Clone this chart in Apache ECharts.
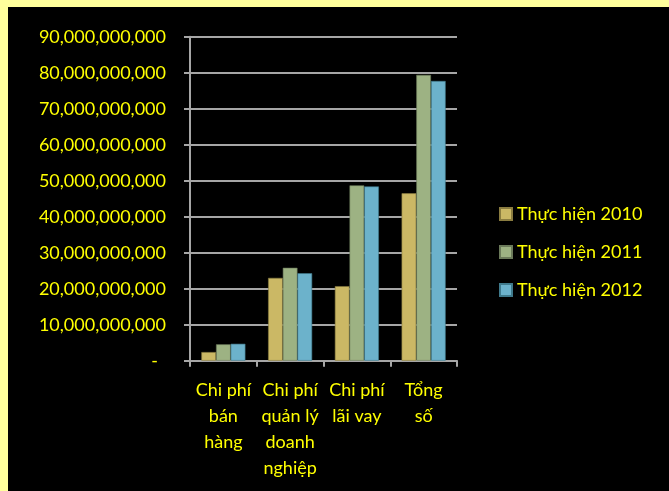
<!DOCTYPE html>
<html><head><meta charset="utf-8">
<script src="https://cdn.jsdelivr.net/npm/echarts@6/dist/echarts.min.js"></script>
<style>html,body{margin:0;padding:0;background:#ffff9c;}#c{width:669px;height:491px;}</style>
</head><body><div id="c"></div>
<script>
const categories = ["Chi phí\nbán\nhàng", "Chi phí\nquản lý\ndoanh\nnghiệp", "Chi phí\nlãi vay", "Tổng\nsố"];
const seriesNames = ["Thực hiện 2010", "Thực hiện 2011", "Thực hiện 2012"];
const v2010 = [2400000000, 23000000000, 20700000000, 46500000000];
const v2011 = [4550000000, 25800000000, 48700000000, 79400000000];
const v2012 = [4700000000, 24300000000, 48400000000, 77700000000];
const colors = ["#cbb865", "#9db283", "#6cb2cb"];
const borders = ["#8a7c40", "#6b7a5a", "#3f7a8c"];

const chart = echarts.init(document.getElementById('c'));
const font = 'Lato, "Noto Sans", sans-serif';
const mk = (i, data) => ({
  name: seriesNames[i], type: 'bar', data: data,
  barGap: '0%', barCategoryGap: '34%',
  itemStyle: { color: colors[i], borderColor: borders[i], borderWidth: 0.6 }
});
chart.setOption({
  backgroundColor: '#ffff9c',
  animation: false,
  graphic: [{ type: 'rect', shape: { x: 8, y: 7, width: 661, height: 484 }, style: { fill: '#000000' }, z: -10 }],
  grid: { left: 190, right: 212, top: 36.7, bottom: 130.3, containLabel: false },
  legend: {
    orient: 'vertical', left: 494, top: 200, itemGap: 20, itemWidth: 12, itemHeight: 12,
    icon: 'rect',
    textStyle: { color: '#ffff00', fontSize: 18, fontFamily: font },
    data: seriesNames
  },
  xAxis: {
    type: 'category', data: categories,
    axisLine: { lineStyle: { color: '#a6a6a6', width: 2 } },
    axisTick: { show: true, length: 6, lineStyle: { color: '#a6a6a6', width: 2 } },
    axisLabel: { color: '#ffff00', fontSize: 18, fontFamily: font, lineHeight: 26, margin: 16, interval: 0 }
  },
  yAxis: {
    type: 'value', min: 0, max: 90000000000, interval: 10000000000,
    axisLine: { show: true, lineStyle: { color: '#a6a6a6', width: 2 } },
    axisTick: { show: true, length: 6, lineStyle: { color: '#a6a6a6', width: 2 } },
    splitLine: { lineStyle: { color: '#a6a6a6', width: 2 } },
    axisLabel: {
      color: '#ffff00', fontSize: 18, fontFamily: font, margin: 24,
      formatter: v => v === 0 ? '{z|-}' : v.toLocaleString('en-US'),
      rich: { z: { color: '#ffff00', fontSize: 18, fontFamily: font, padding: [0, 8, 0, 0] } }
    }
  },
  series: [mk(0, v2010), mk(1, v2011), mk(2, v2012)]
});
</script></body></html>
